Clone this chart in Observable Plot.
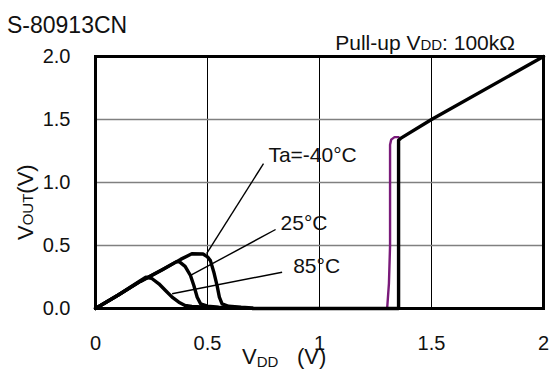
<!DOCTYPE html>
<html>
<head>
<meta charset="utf-8">
<script src="https://cdn.jsdelivr.net/npm/d3@7"></script>
<script src="https://cdn.jsdelivr.net/npm/@observablehq/plot@0.6"></script>
<style>
  html, body { margin: 0; padding: 0; background: white; }
  #chart { width: 550px; height: 369px; }
</style>
</head>
<body>
<div id="chart"></div>
<script>
// ---- Data ----
const xTicks = [0, 0.5, 1, 1.5, 2];
const xTickLabels = ["0", "0.5", "1", "1.5", "2"];
const yTicks = [0, 0.5, 1, 1.5, 2];
const yTickLabels = ["0.0", "0.5", "1.0", "1.5", "2.0"];
const xGrid = [0.5, 1, 1.5];
const yGrid = [0.5, 1, 1.5];

// Low-VDD region, V_OUT vs V_DD for each temperature
const vddM40 = [0, 0.1, 0.2, 0.3, 0.38, 0.43, 0.48, 0.50, 0.513, 0.528, 0.543, 0.553, 0.565, 0.594, 0.65, 0.70];
const voutM40 = [0, 0.105, 0.215, 0.31, 0.39, 0.434, 0.432, 0.41, 0.38, 0.29, 0.18, 0.09, 0.037, 0.018, 0.01, 0.005];
const vdd25 = [0, 0.1, 0.2, 0.3, 0.36, 0.375, 0.40, 0.424, 0.439, 0.454, 0.469, 0.50, 0.55, 0.62];
const vout25 = [0, 0.105, 0.215, 0.31, 0.37, 0.37, 0.335, 0.262, 0.182, 0.09, 0.037, 0.018, 0.01, 0.005];
const vdd85 = [0, 0.1, 0.2, 0.225, 0.25, 0.283, 0.3125, 0.342, 0.372, 0.40, 0.43, 0.50, 0.58];
const vout85 = [0, 0.105, 0.22, 0.248, 0.24, 0.196, 0.143, 0.09, 0.05, 0.024, 0.016, 0.01, 0.005];

// Release region (output switches high)
const vddHighBlack = [0.70, 1.353, 1.353, 1.362, 1.5, 2.0];
const voutHighBlack = [0, 0, 1.335, 1.35, 1.50, 2.0];
const vddHighPurple = [1.302, 1.31, 1.315, 1.315, 1.32, 1.335, 1.353];
const voutHighPurple = [0, 0.2, 0.5, 1.30, 1.34, 1.36, 1.36];

// Temperature labels and their leader lines (data units)
const labelText = ["Ta=-40°C", "25°C", "85°C"];
const labelVdd = [0.772, 0.826, 0.8825];
const labelVout = [1.159, 0.624, 0.28];
const leaderFromVdd = [0.496, 0.424, 0.342];
const leaderFromVout = [0.435, 0.262, 0.117];
const leaderToVdd = [0.75, 0.804, 0.833];
const leaderToVout = [1.15, 0.627, 0.288];

// ---- Build tables ----
const zip = (xs, ys, ta) => xs.map((x, i) => ({vdd: x, vout: ys[i], ta}));
const lowData = [
  ...zip(vddM40, voutM40, "-40"),
  ...zip(vdd25, vout25, "25"),
  ...zip(vdd85, vout85, "85")
];
const highBlack = zip(vddHighBlack, voutHighBlack, "hb");
const highPurple = zip(vddHighPurple, voutHighPurple, "hp");
const labels = labelText.map((t, i) => ({text: t, vdd: labelVdd[i], vout: labelVout[i]}));
const leaders = labelText.map((t, i) => ({
  x1: leaderFromVdd[i], y1: leaderFromVout[i], x2: leaderToVdd[i], y2: leaderToVout[i]
}));

const FONT = "'Liberation Sans', Arial, Helvetica, sans-serif";

const chart = Plot.plot({
  width: 550,
  height: 369,
  marginLeft: 95,
  marginRight: 7,
  marginTop: 56,
  marginBottom: 61,
  x: {domain: [0, 2]},
  y: {domain: [0, 2]},
  style: {fontFamily: FONT, fontSize: "20px", background: "white", color: "#111", overflow: "visible"},
  marks: [
    Plot.ruleX(xGrid, {stroke: "black", strokeWidth: 1}),
    Plot.ruleY(yGrid, {stroke: "#808080", strokeWidth: 1.6}),
    Plot.axisX({ticks: xTicks, tickFormat: d => xTickLabels[xTicks.indexOf(d)], tickSize: 0, tickPadding: 27, label: null}),
    Plot.axisY({ticks: yTicks, tickFormat: d => yTickLabels[yTicks.indexOf(d)], tickSize: 0, tickPadding: 25, label: null}),
    Plot.line(highPurple, {x: "vdd", y: "vout", stroke: "#7a1a7a", strokeWidth: 2.4, strokeLinejoin: "round"}),
    Plot.line(lowData, {x: "vdd", y: "vout", z: "ta", stroke: "black", strokeWidth: 3.4, strokeLinejoin: "round", strokeLinecap: "round"}),
    Plot.line(highBlack, {x: "vdd", y: "vout", stroke: "black", strokeWidth: 3.4, strokeLinejoin: "round"}),
    Plot.link(leaders, {x1: "x1", y1: "y1", x2: "x2", y2: "y2", stroke: "black", strokeWidth: 1.4}),
    Plot.text(labels, {x: "vdd", y: "vout", text: "text", textAnchor: "start", lineAnchor: "bottom", fontSize: 21, fill: "#111"}),
    Plot.frame({stroke: "black", strokeWidth: 3})
  ]
});

document.getElementById("chart").appendChild(chart);

// ---- Titles and axis labels (real SVG text with subscripts) ----
const svg = d3.select(chart);
svg.append("text")
  .attr("x", 7).attr("y", 33)
  .attr("text-anchor", "start")
  .attr("font-family", FONT).attr("font-size", 23).attr("fill", "#111")
  .text("S-80913CN");

const pu = svg.append("text")
  .attr("x", 515).attr("y", 50)
  .attr("text-anchor", "end")
  .attr("font-family", FONT).attr("font-size", 21).attr("fill", "#111");
pu.append("tspan").text("Pull-up V");
pu.append("tspan").attr("font-size", 15).text("DD");
pu.append("tspan").text(": 100kΩ");

const xl = svg.append("text")
  .attr("x", 242).attr("y", 364)
  .attr("text-anchor", "start")
  .attr("font-family", FONT).attr("font-size", 22).attr("fill", "#111");
xl.append("tspan").text("V");
xl.append("tspan").attr("font-size", 15).attr("dy", 3).text("DD");
xl.append("tspan").attr("x", 297).attr("dy", -3).text("(V)");

const yl = svg.append("text")
  .attr("transform", "translate(33,240) rotate(-90)")
  .attr("text-anchor", "start")
  .attr("font-family", FONT).attr("font-size", 22).attr("fill", "#111");
yl.append("tspan").text("V");
yl.append("tspan").attr("font-size", 15).text("OUT");
yl.append("tspan").text("(V)");
</script>
</body>
</html>
